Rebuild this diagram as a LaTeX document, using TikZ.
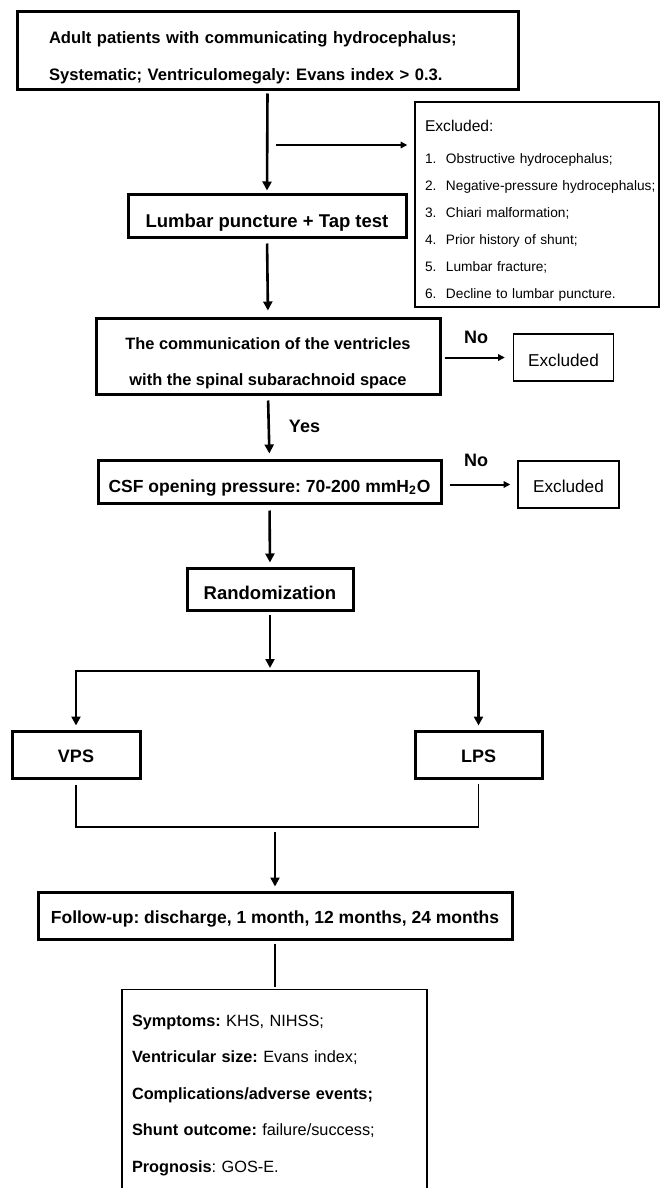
\documentclass[tikz,border=0pt]{standalone}
\usepackage{fontspec}
\setmainfont{Liberation Sans}
\usetikzlibrary{arrows.meta,calc}
\frenchspacing

\tikzset{
  thickbox/.style={draw, line width=1.5pt, inner sep=0pt, font=\bfseries},
  thinbox/.style={draw, line width=0.7pt, inner sep=0pt},
  mainarrow/.style={-{Triangle[length=4.5pt,width=4.5pt]}, line width=1.3pt},
  sidearrow/.style={-{Triangle[length=3.3pt,width=3.2pt]}, line width=1pt},
  joinline/.style={line width=0.85pt},
  answer/.style={font=\bfseries\fs{9}{10}, inner sep=0pt}
}
\newcommand{\fs}[2]{\fontsize{#1}{#2}\selectfont}
\newcommand{\exitem}[2]{\mbox{\makebox[10.5pt][l]{#1}#2}}

\begin{document}
\begin{tikzpicture}[x=0.5pt,y=-0.5pt]
\useasboundingbox (0,0) rectangle (660,1188);
\clip (0,0) rectangle (660,1188);

% Inclusion
\node[thickbox, minimum width=250.5pt, minimum height=39pt, text width=218.5pt, align=left,
  font=\bfseries\fs{8.3}{18.25}] (inclusion) at (267.5,51)
  {\rule{0pt}{13pt}Adult patients with communicating hydrocephalus;\\
   Systematic; Ventriculomegaly: Evans index > 0.3.};

% Exclusion list
\node[thinbox, minimum width=122pt, minimum height=102.5pt, text width=112pt, align=left,
  font=\fs{6.85}{13.5}] (exclusion) at (537,204.5)
  {\rule{0pt}{12pt}{\fs{7.8}{13.5}Excluded:}\\[2.8pt]
   \exitem{1.}{Obstructive hydrocephalus;}\\
   \exitem{2.}{Negative-pressure hydrocephalus;}\\
   \exitem{3.}{Chiari malformation;}\\
   \exitem{4.}{Prior history of shunt;}\\
   \exitem{5.}{Lumbar fracture;}\\
   \exitem{6.}{Decline to lumbar puncture.}};

% Main chain
\node[thickbox, minimum width=139pt, minimum height=21.5pt, font=\bfseries\fs{9.25}{11},
  text height=11.5pt, text depth=0pt] (taptest) at (267,215.5) {Lumbar puncture + Tap test};
\node[thickbox, minimum width=172pt, minimum height=38pt, align=center,
  font=\bfseries\fs{8.2}{18}] (communication) at (268,356)
  {\rule{0pt}{12.7pt}The communication of the ventricles\\ with the spinal subarachnoid space};
\node[thickbox, minimum width=171.5pt, minimum height=21.5pt, font=\bfseries\fs{8.75}{10},
  text height=10.8pt, text depth=0pt] (pressure) at (269.5,481.5)
  {CSF opening pressure: 70-200 mmH\textsubscript{2}O};
\node[thickbox, minimum width=83pt, minimum height=21pt, font=\bfseries\fs{9.25}{11},
  text height=10pt, text depth=0pt] (random) at (270,589) {Randomization};

% Arms
\node[thickbox, minimum width=64pt, minimum height=23.5pt, font=\bfseries\fs{9}{10},
  text height=7.5pt, text depth=0pt] (vps) at (76,754.5) {VPS};
\node[thickbox, minimum width=63.5pt, minimum height=23.5pt, font=\bfseries\fs{9}{10},
  text height=7.5pt, text depth=0pt] (lps) at (478.5,754.5) {LPS};

% Follow-up and outcomes
\node[thickbox, minimum width=237pt, minimum height=23.5pt, font=\bfseries\fs{8.75}{10},
  text height=7.5pt, text depth=0pt] (followup) at (275,915.5)
  {Follow-up: discharge, 1 month, 12 months, 24 months};
\node[thinbox, anchor=north, minimum width=152.5pt, minimum height=105.75pt, text width=142.5pt,
  align=left, font=\fs{8.15}{18.25}] (outcome) at (274.5,989)
  {\textbf{Symptoms:} KHS, NIHSS;\\
   \textbf{Ventricular size:} Evans index;\\
   \textbf{Complications/adverse events;}\\
   \textbf{Shunt outcome:} failure/success;\\
   \textbf{Prognosis}: GOS-E.};

% Excluded boxes
\node[thinbox, minimum width=50pt, minimum height=23.5pt, font=\fs{8.6}{10},
  text height=8.5pt, text depth=0pt] (excluded1) at (563.5,357.5) {Excluded};
\node[thinbox, minimum width=50.5pt, minimum height=23.5pt, font=\fs{8.6}{10},
  text height=7.5pt, text depth=0pt] (excluded2) at (568.5,484.5) {Excluded};

% Labels
\node[answer] (no1) at (476,337) {No};
\node[answer] (no2) at (476,460) {No};
\node[answer] (yes) at (304.5,426) {Yes};

% Connectors
\coordinate (branch) at (276,145);
\coordinate (split) at (270,671);
\coordinate (merge) at (275,827);

\draw[mainarrow, shorten <=1pt, shorten >=1pt] (inclusion.south) -- (taptest.north);
\draw[sidearrow, shorten >=3.5pt] (branch) -- (branch -| exclusion.west);
\draw[mainarrow, shorten <=2.5pt, shorten >=3pt] (taptest.south) -- (communication.north);
\draw[sidearrow, shorten <=1.5pt, shorten >=4pt] (communication.east |- excluded1.west) -- (excluded1.west);
\draw[mainarrow, shorten <=2.5pt, shorten >=2.5pt] (communication.south) -- (pressure.north);
\draw[sidearrow, shorten <=3.5pt, shorten >=3.5pt] (pressure.east |- excluded2.west) -- (excluded2.west);
\draw[mainarrow, shorten <=3pt, shorten >=2pt] (pressure.south) -- (random.north);
\draw[mainarrow, shorten <=1.5pt, shorten >=1.5pt] (random.south) -- (split);
\draw[mainarrow, shorten >=2pt] (split) -| (vps.north);
\draw[mainarrow, shorten >=2pt] (split) -| (lps.north);
\draw[joinline, shorten <=2.5pt] (vps.south) |- (merge);
\draw[joinline, shorten <=2pt] (lps.south) |- (merge);
\draw[mainarrow, shorten <=2.5pt, shorten >=2pt] (merge) -- (merge |- followup.north);
\draw[line width=1pt, shorten <=1.5pt, shorten >=1pt] (followup.south -| outcome.north) -- (outcome.north);
\end{tikzpicture}
\end{document}
